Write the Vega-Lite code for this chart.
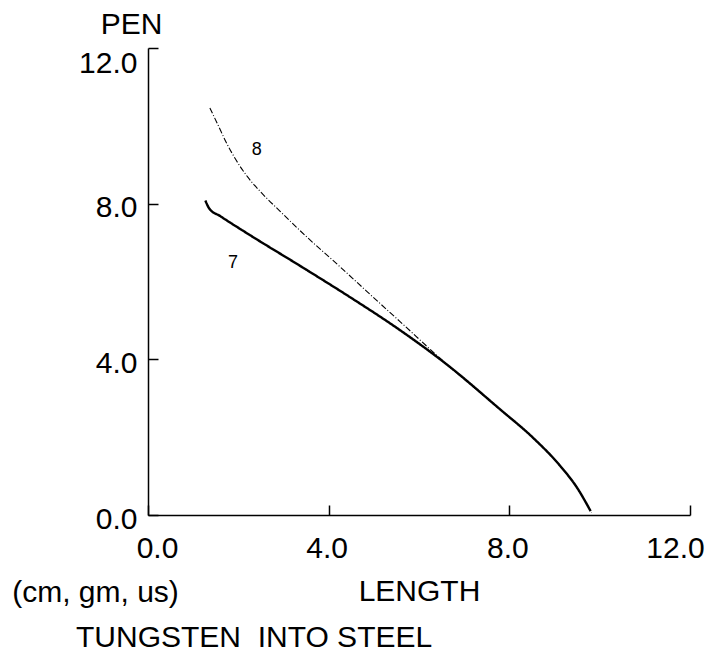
{
  "$schema": "https://vega.github.io/schema/vega-lite/v6.json",
  "width": 542,
  "height": 467,
  "autosize": "none",
  "padding": {"left": 148, "top": 48, "right": 21, "bottom": 141},
  "background": "white",
  "config": {
    "view": {"stroke": null},
    "font": "Liberation Sans",
    "axis": {
      "grid": false,
      "domainColor": "black",
      "domainWidth": 1.5,
      "tickColor": "black",
      "tickWidth": 1.5,
      "tickSize": -10,
      "labelColor": "black",
      "labelFont": "Liberation Sans",
      "labelFontSize": 30,
      "titleColor": "black",
      "titleFont": "Liberation Sans",
      "titleFontSize": 30,
      "titleFontWeight": "normal"
    }
  },
  "title": {
    "text": "TUNGSTEN\u00a0 INTO STEEL",
    "orient": "bottom",
    "anchor": "start",
    "frame": "group",
    "dx": -72,
    "offset": 16,
    "font": "Liberation Sans",
    "fontSize": 30,
    "fontWeight": "normal",
    "color": "black"
  },
  "datasets": {
    "curves": [
      {"run": "8", "length": 1.37, "pen": 10.46},
      {"run": "8", "length": 1.55, "pen": 10.02},
      {"run": "8", "length": 1.73, "pen": 9.58},
      {"run": "8", "length": 1.95, "pen": 9.12},
      {"run": "8", "length": 2.21, "pen": 8.68},
      {"run": "8", "length": 2.52, "pen": 8.27},
      {"run": "8", "length": 2.92, "pen": 7.81},
      {"run": "8", "length": 3.52, "pen": 7.14},
      {"run": "8", "length": 4.25, "pen": 6.38},
      {"run": "8", "length": 4.85, "pen": 5.74},
      {"run": "8", "length": 5.58, "pen": 4.97},
      {"run": "8", "length": 6.53, "pen": 3.96},
      {"run": "8", "length": 7.79, "pen": 2.72},
      {"run": "8", "length": 8.52, "pen": 1.99},
      {"run": "8", "length": 9.12, "pen": 1.27},
      {"run": "8", "length": 9.5, "pen": 0.7},
      {"run": "8", "length": 9.82, "pen": 0.06},
      {"run": "7", "length": 1.27, "pen": 8.08},
      {"run": "7", "length": 1.36, "pen": 7.87},
      {"run": "7", "length": 1.6, "pen": 7.68},
      {"run": "7", "length": 2.26, "pen": 7.19},
      {"run": "7", "length": 3.37, "pen": 6.4},
      {"run": "7", "length": 4.47, "pen": 5.6},
      {"run": "7", "length": 5.58, "pen": 4.75},
      {"run": "7", "length": 6.69, "pen": 3.8},
      {"run": "7", "length": 7.79, "pen": 2.72},
      {"run": "7", "length": 8.52, "pen": 1.99},
      {"run": "7", "length": 9.12, "pen": 1.27},
      {"run": "7", "length": 9.5, "pen": 0.7},
      {"run": "7", "length": 9.8, "pen": 0.1}
    ],
    "tags": [
      {"run": "8", "length": 2.41, "pen": 9.37},
      {"run": "7", "length": 1.88, "pen": 6.48}
    ]
  },
  "layer": [
    {
      "data": {"name": "curves"},
      "mark": {"type": "line", "interpolate": "monotone", "color": "black"},
      "encoding": {
        "x": {
          "field": "length",
          "type": "quantitative",
          "scale": {"domain": [0, 12], "nice": false, "zero": false},
          "axis": {
            "orient": "bottom",
            "values": [0, 4, 8, 12],
            "format": ".1f",
            "labelFlush": false,
            "labelPadding": 28,
            "labelOffset": {"condition": [{"test": "datum.value == 0", "value": 9}, {"test": "datum.value == 12", "value": -15}], "value": -2},
            "title": "LENGTH",
            "titleX": 271,
            "titleY": 85,
            "titleAlign": "center",
            "titleBaseline": "alphabetic"
          }
        },
        "y": {
          "field": "pen",
          "type": "quantitative",
          "scale": {"domain": [0, 12], "nice": false, "zero": false},
          "axis": {
            "values": [0, 4, 8, 12],
            "format": ".1f",
            "labelFlush": false,
            "labelPadding": 21,
            "labelOffset": {"condition": {"test": "datum.value == 12", "value": 15}, "value": 4},
            "title": "PEN",
            "titleAngle": 0,
            "titleX": -17,
            "titleY": -15,
            "titleAlign": "center",
            "titleBaseline": "alphabetic"
          }
        },
        "strokeDash": {
          "field": "run",
          "type": "nominal",
          "scale": {"domain": ["8", "7"], "range": [[6, 2, 1, 2], [1, 0]]},
          "legend": null
        },
        "strokeWidth": {
          "field": "run",
          "type": "nominal",
          "scale": {"domain": ["8", "7"], "range": [1.1, 2.4]},
          "legend": null
        },
        "order": {"field": "run", "sort": "descending"}
      }
    },
    {
      "data": {"name": "tags"},
      "mark": {"type": "text", "fontSize": 18, "color": "black", "font": "Liberation Sans"},
      "encoding": {
        "x": {
          "field": "length",
          "type": "quantitative",
          "axis": {
            "orient": "bottom",
            "title": "(cm, gm, us)",
            "labels": false,
            "ticks": false,
            "domain": false,
            "titleX": -53,
            "titleY": 86,
            "titleAlign": "center",
            "titleBaseline": "alphabetic"
          }
        },
        "y": {"field": "pen", "type": "quantitative", "axis": null},
        "text": {"field": "run"}
      }
    }
  ],
  "resolve": {"axis": {"x": "independent", "y": "independent"}}
}
